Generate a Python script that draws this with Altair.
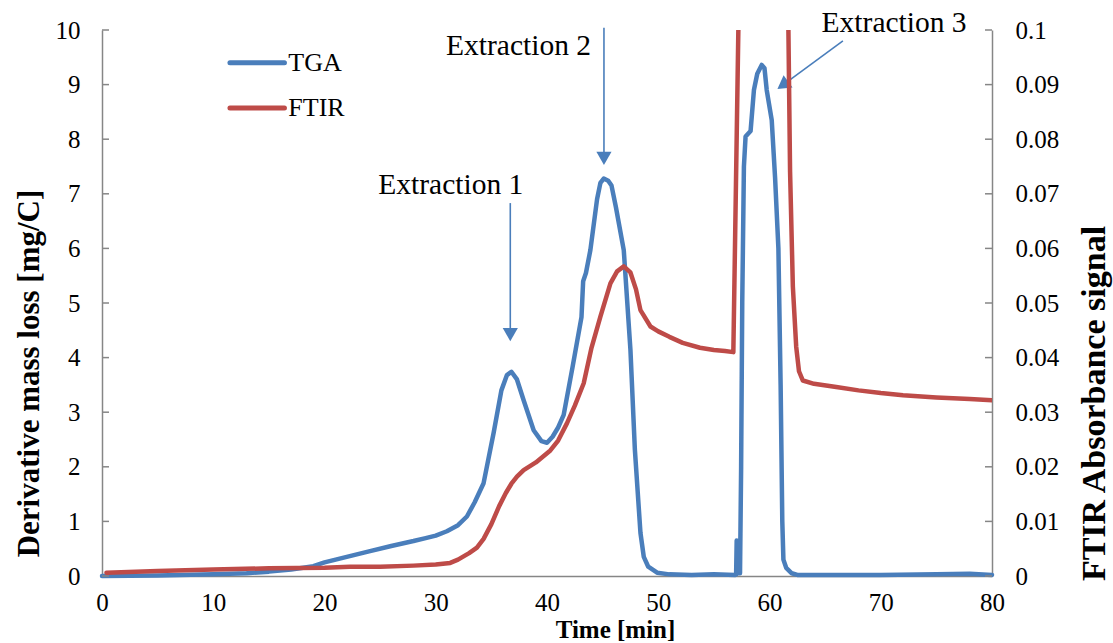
import altair as alt
import pandas as pd

FONT = "Liberation Serif"
BLUE = "#4A7EBB"
RED = "#BE4B48"
AXIS = "#868686"

# ---- data ----
tga_time = [0, 5, 10, 13, 15, 17, 19, 20, 21, 22, 24, 26, 28, 29, 30, 31, 32, 32.8, 33.5, 34.3,
            35.2, 35.9, 36.4, 36.8, 37.3, 37.9, 38.8, 39.5, 40.0, 40.5, 41.0, 41.5, 42.3, 43.1,
            43.25, 43.5, 43.9, 44.5, 44.8, 45.1, 45.5, 45.8, 46.2, 46.9, 47.5, 47.9, 48.4, 48.7,
            49.1, 49.9, 51, 53, 55, 56.9, 57.0, 57.05, 57.1, 57.35, 57.45, 57.55, 57.7, 57.85,
            58.3, 58.6, 58.9, 59.3, 59.55, 59.75, 60.2, 60.5, 60.8, 61.0, 61.15, 61.25, 61.5,
            62.0, 62.5, 65, 70, 75, 78, 80]
tga_value = [0.0, 0.01, 0.03, 0.05, 0.08, 0.12, 0.18, 0.25, 0.3, 0.35, 0.45, 0.55, 0.64, 0.69,
             0.74, 0.82, 0.93, 1.09, 1.35, 1.7, 2.62, 3.4, 3.68, 3.74, 3.6, 3.22, 2.67, 2.47,
             2.44, 2.55, 2.72, 2.95, 3.83, 4.74, 5.4, 5.55, 5.97, 6.9, 7.2, 7.28, 7.24, 7.15,
             6.75, 5.97, 4.14, 2.31, 0.79, 0.35, 0.17, 0.06, 0.03, 0.02, 0.03, 0.02, 0.03, 0.65,
             0.05, 0.05, 2.0, 5.0, 7.5, 8.05, 8.15, 8.9, 9.2, 9.36, 9.3, 8.9, 8.35, 7.3, 6.0,
             3.5, 1.0, 0.3, 0.15, 0.05, 0.02, 0.02, 0.02, 0.03, 0.04, 0.02]

ftir_time = [0.4, 5, 10, 15, 20, 22.3, 25, 28, 30, 31.3, 32, 33, 33.7, 34.3, 35.0, 35.7, 36.3,
             36.8, 37.3, 37.9, 39, 40.3, 41, 41.8, 42.5, 43.3, 44, 44.8, 45.7, 46.3, 46.9, 47.5,
             48.0, 48.4, 49.3, 50, 51, 52.2, 53.75, 55, 56, 56.75, 57.2, 57.5, 61.45, 61.7,
             61.85, 62.1, 62.4, 62.65, 63, 64, 66, 68, 70, 72, 75, 78, 80]
ftir_value = [0.0006, 0.0009, 0.0012, 0.0014, 0.0015, 0.0017, 0.0017, 0.0019, 0.0021, 0.0024,
              0.003, 0.0042, 0.0052, 0.0068, 0.0095, 0.0128, 0.0152, 0.0169, 0.0182, 0.0194,
              0.0208, 0.023, 0.0248, 0.028, 0.0312, 0.0353, 0.0418, 0.0475, 0.0536, 0.0558,
              0.0567, 0.0556, 0.0525, 0.0487, 0.0457, 0.0448, 0.0438, 0.0427, 0.0418, 0.0414,
              0.0412, 0.041, 0.1, 0.15, 0.15, 0.1, 0.074, 0.053, 0.042, 0.0375, 0.0358, 0.0352,
              0.0346, 0.034, 0.0335, 0.0331, 0.0327, 0.0324, 0.0322]

x_ticks = [0, 10, 20, 30, 40, 50, 60, 70, 80]
left_ticks = [0, 1, 2, 3, 4, 5, 6, 7, 8, 9, 10]
right_ticks = [0, 0.01, 0.02, 0.03, 0.04, 0.05, 0.06, 0.07, 0.08, 0.09, 0.1]

ann_text = ["Extraction 1", "Extraction 2", "Extraction 3"]
ann_text_x = [31.35, 37.44, 71.2]
ann_text_y = [7.16, 9.71, 10.13]
arrow_x1 = [36.7, 45.12, 66.6]
arrow_y1 = [6.83, 10.04, 9.80]
arrow_x2 = [36.7, 45.12, 61.19]
arrow_y2 = [4.42, 7.65, 8.99]
arrow_angle = [0, 0, 54]

legend_labels = ["TGA", "FTIR"]
legend_colors = [BLUE, RED]
legend_y = [9.40, 8.57]
legend_x1 = [11.5, 11.5]
legend_x2 = [16.4, 16.4]
legend_text_x = [16.75, 16.75]

# ---- tables ----
tga = pd.DataFrame({"t": tga_time, "v": tga_value})
ftir = pd.DataFrame({"t": ftir_time, "v": ftir_value})
ann = pd.DataFrame({"label": ann_text, "tx": ann_text_x, "ty": ann_text_y,
                    "x1": arrow_x1, "y1": arrow_y1, "x2": arrow_x2, "y2": arrow_y2,
                    "angle": arrow_angle})
leg = pd.DataFrame({"label": legend_labels, "color": legend_colors, "y": legend_y,
                    "x1": legend_x1, "x2": legend_x2, "tx": legend_text_x})
lt = pd.DataFrame({"v": left_ticks})
rt = pd.DataFrame({"v": right_ticks})

xscale = alt.Scale(domain=[0, 80], nice=False)
lscale = alt.Scale(domain=[0, 10], nice=False)
rscale = alt.Scale(domain=[0, 0.1], nice=False)

x_axis = alt.Axis(values=x_ticks, title="Time [min]", grid=False, ticks=False, tickSize=0,
                  domainColor=AXIS, domainWidth=1.5, labelFont=FONT, labelFontSize=25,
                  labelColor="black", labelPadding=34, labelBaseline="alphabetic",
                  labelFlush=False, titleFont=FONT, titleFontSize=25, titleFontWeight="bold",
                  titleColor="black", titleX=513, titleY=61, titleBaseline="alphabetic",
                  titleAlign="center")
left_axis = alt.Axis(orient="left", values=left_ticks, format="d", grid=False, ticks=False,
                     tickSize=0, domainColor=AXIS, domainWidth=1.5, labelFont=FONT,
                     labelFontSize=25, labelColor="black", labelPadding=22,
                     title="Derivative mass loss [mg/C]", titleFont=FONT, titleFontSize=31,
                     titleFontWeight="bold", titleColor="black", titleAngle=270,
                     titleX=-73, titleY=343, titleBaseline="middle", titleAlign="center")
right_axis = alt.Axis(orient="right", values=right_ticks, format="~g", grid=False, ticks=False,
                      tickSize=0, domainColor=AXIS, domainWidth=1.5, labelFont=FONT,
                      labelFontSize=25, labelColor="black", labelPadding=23,
                      title="FTIR Absorbance signal", titleFont=FONT, titleFontSize=34,
                      titleFontWeight="bold", titleColor="black", titleAngle=270,
                      titleX=102, titleY=373, titleBaseline="middle", titleAlign="center")


def X(field):
    return alt.X(field, type="quantitative", scale=xscale, axis=x_axis)


def YL(field):
    return alt.Y(field, type="quantitative", scale=lscale, axis=left_axis)


def YR(field):
    return alt.Y(field, type="quantitative", scale=rscale, axis=right_axis)


blue = alt.Chart(tga).mark_line(color=BLUE, strokeWidth=4.5, strokeJoin="round",
                                strokeCap="round").encode(x=X("t"), y=YL("v"))

left_tick_marks = alt.Chart(lt).mark_rule(color=AXIS, strokeWidth=1.5).encode(
    y=YL("v"), x=alt.value(0), x2=alt.value(7))

arrows = alt.Chart(ann).mark_rule(color=BLUE, strokeWidth=1.6).encode(
    x=X("x1"), y=YL("y1"), x2="x2:Q", y2="y2:Q")
heads = alt.Chart(ann).mark_point(shape="triangle-down", filled=True, opacity=1, color=BLUE,
                                  size=230).encode(
    x=X("x2"), y=YL("y2"), angle=alt.Angle("angle:Q", scale=None))
ann_labels = alt.Chart(ann).mark_text(font=FONT, fontSize=29.5, color="black",
                                      baseline="middle", align="center").encode(
    x=X("tx"), y=YL("ty"), text="label:N")

leg_lines = alt.Chart(leg).mark_rule(strokeWidth=5, strokeCap="round").encode(
    x=X("x1"), x2="x2:Q", y=YL("y"), color=alt.Color("color:N", scale=None))
leg_text = alt.Chart(leg).mark_text(font=FONT, fontSize=26, color="black", align="left",
                                    baseline="middle").encode(
    x=X("tx"), y=YL("y"), text="label:N")

left_group = alt.layer(blue, left_tick_marks, arrows, heads, ann_labels, leg_lines, leg_text)

red = alt.Chart(ftir).mark_line(color=RED, strokeWidth=4.5, strokeJoin="round",
                                strokeCap="round", clip=True).encode(x=X("t"), y=YR("v"))
right_tick_marks = alt.Chart(rt).mark_rule(color=AXIS, strokeWidth=1.5).encode(
    y=YR("v"), x=alt.value(883), x2=alt.value(890))

right_group = alt.layer(red, right_tick_marks)

chart = alt.layer(left_group, right_group).resolve_scale(y="independent").properties(
    width=890, height=546,
    autosize=alt.AutoSizeParams(type="none"),
    padding={"left": 102, "top": 30, "right": 121, "bottom": 67},
    background="white",
).configure_view(strokeWidth=0)

chart.save("out.html", embed_options={"renderer": "svg", "actions": False})
